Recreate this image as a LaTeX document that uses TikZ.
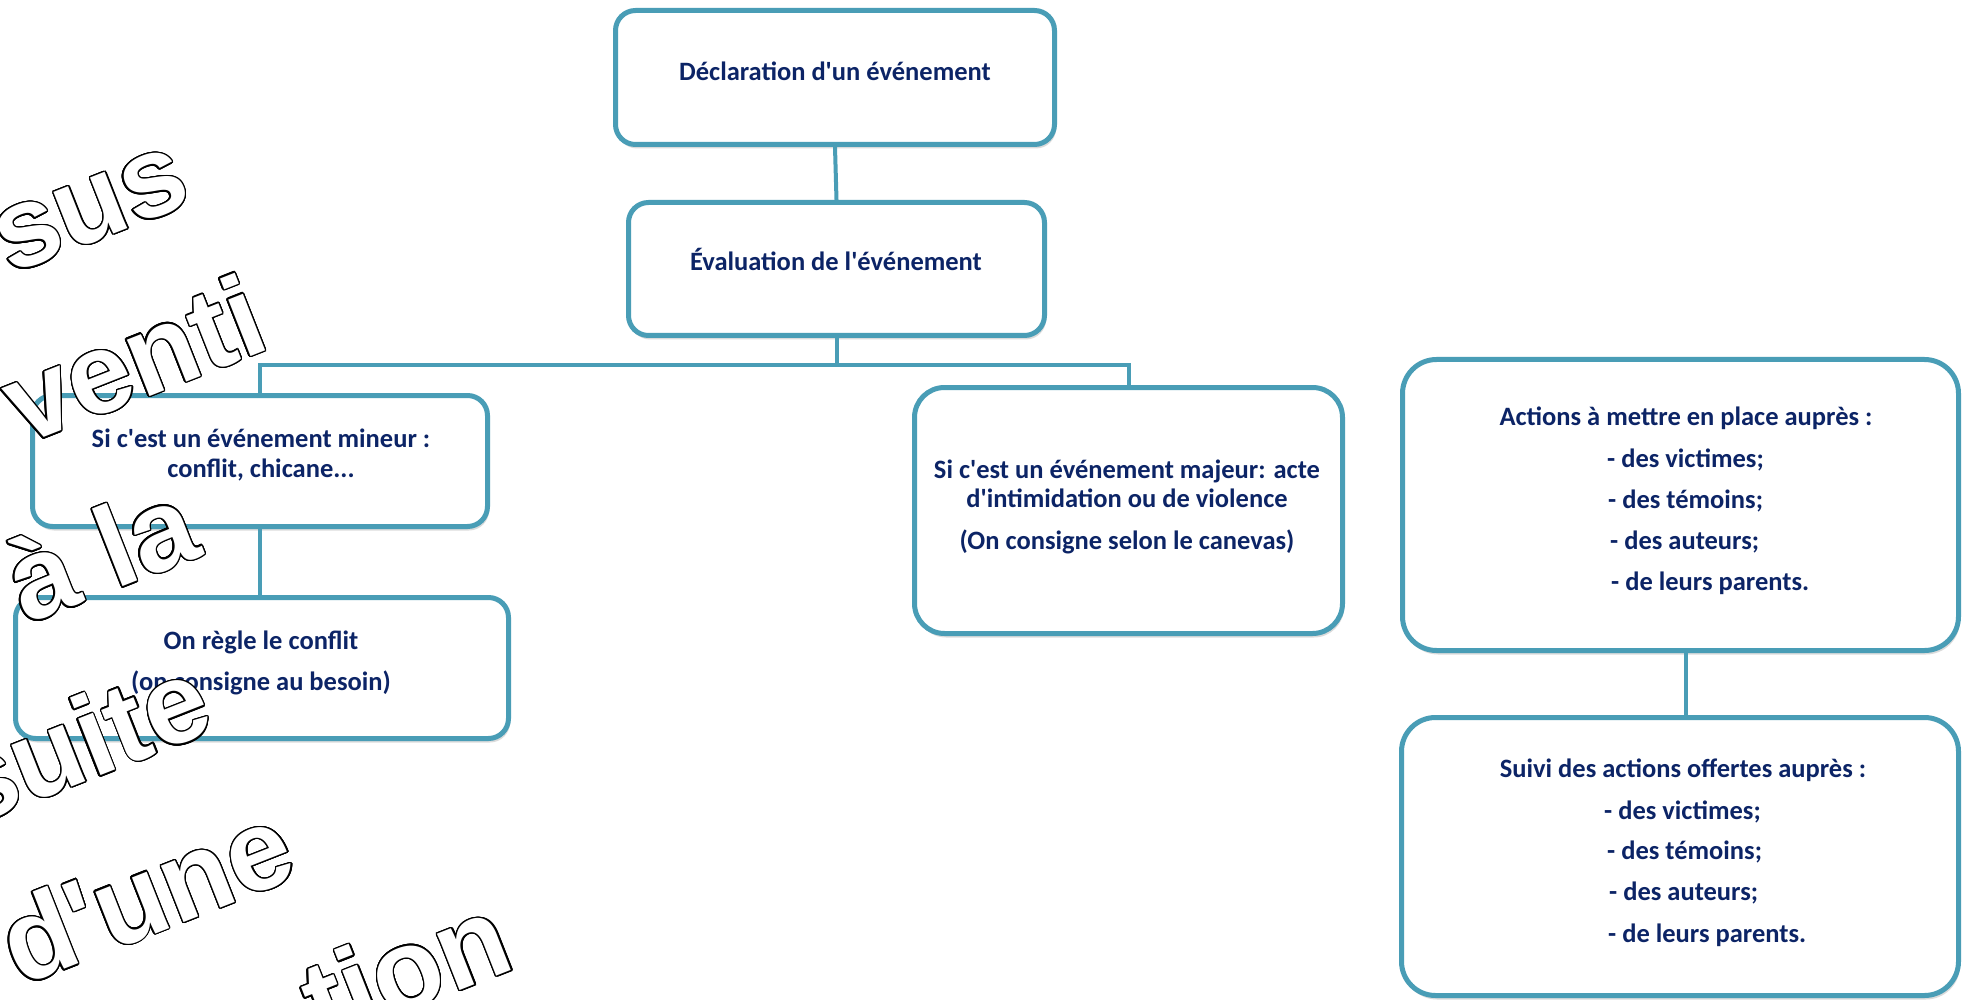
\documentclass[tikz,border=0pt]{standalone}
\usepackage{fontspec}
\setmainfont{Carlito}[Ligatures=TeXOff]
\newfontfamily\wafont{Liberation Sans}
\usetikzlibrary{shadows,calc}
\definecolor{boxline}{RGB}{73,157,182}
\definecolor{navy}{RGB}{12,36,102}
\tikzset{
  box/.style={draw=boxline, line width=5pt, rounded corners=#1, fill=white,
    drop shadow={shadow xshift=1.5pt, shadow yshift=-4pt, opacity=0.28},
    inner sep=0pt},
  box/.default=20pt,
  link/.style={draw=boxline, line width=4pt},
  lbl/.style={text=navy, inner sep=0pt, anchor=mid,
    font=\bfseries\fontsize{26.5}{31}\selectfont},
  lbll/.style={lbl, anchor=mid west},
  wa/.style={font=\wafont\bfseries\fontsize{115}{115}\selectfont,
    rotate=21.5, anchor=base west, inner sep=0pt},
}
\newcommand\outlineword[3]{%
  \foreach \ang in {0,15,...,345}{%
    \node[wa, text=black] at ($(#2)+(\ang:1.35)$) {#3};}
  \node[wa, text=white] (#1) at (#2) {#3};
}
\begin{document}
\begin{tikzpicture}[x=1pt, y=-1pt]
\useasboundingbox (0,0) rectangle (1963,1000);
\fill[white] (0,0) rectangle (1963,1000);
\clip (0,0) rectangle (1963,1000);

% boxes
\node[box, minimum width=439, minimum height=134] (b1) at (835,77.5) {};
\node[box, minimum width=416, minimum height=133] (b2) at (836.5,269) {};
\node[box, minimum width=455, minimum height=131] (b3) at (260,461) {};
\node[box, minimum width=493, minimum height=141] (b5) at (262,668) {};
\node[box=30pt, minimum width=428, minimum height=246] (b4) at (1128.5,510.5) {};
\node[box=34pt, minimum width=556, minimum height=291] (b6) at (1680.5,505) {};
\node[box=34pt, minimum width=557, minimum height=278] (b7) at (1680,856.5) {};

% connectors
\coordinate (j) at (836.5,365);
\coordinate (k) at (1686,685);
\draw[link] (b1.south) -- (b2.north);
\draw[link] (b2.south) -- (j);
\draw[link] (b3.north) |- (j) -| (b4.north);
\draw[link] (b3.south) -- (b3.south |- b5.north);
\draw[link] (k |- b6.south) -- (k |- b7.north);

% texts
\node[lbl] (t1) at (835,78) {Déclaration d'un événement};
\node[lbl] (t2) at (836,268) {Évaluation de l'événement};
\node[lbl] (t3a) at (261,445) {Si c'est un événement mineur :};
\node[lbl] (t3b) at (261,475) {conflit, chicane...};
\node[lbl] (t5a) at (261,647) {On règle le conflit};
\node[lbl] (t5b) at (261,688) {(on consigne au besoin)};
\node[lbl] (t4a) at (1127,476) {Si c'est un événement majeur: acte};
\node[lbl] (t4b) at (1127,505) {d'intimidation ou de violence};
\node[lbl] (t4c) at (1127,547) {(On consigne selon le canevas)};
\node[lbl] (t6a) at (1686,423) {Actions à mettre en place auprès :};
\node[lbll] (t6b) at (1607,465) {- des victimes;};
\node[lbll] (t6c) at (1608,506) {- des témoins;};
\node[lbll] (t6d) at (1610,547) {- des auteurs;};
\node[lbll] (t6e) at (1611,588) {- de leurs parents.};
\node[lbl] (t7a) at (1683,775) {Suivi des actions offertes auprès :};
\node[lbll] (t7b) at (1604,817) {- des victimes;};
\node[lbll] (t7c) at (1607,857) {- des témoins;};
\node[lbll] (t7d) at (1609,898) {- des auteurs;};
\node[lbll] (t7e) at (1608,940) {- de leurs parents.};

% outlined words
\outlineword{w1}{10,275}{sus}
\outlineword{w2}{23,446}{venti}
\outlineword{w3}{26,625}{à la}
\outlineword{w4}{-32,828}{suite}
\outlineword{w5}{20,987}{d'une}
\outlineword{w6}{322,1045}{tion}
\end{tikzpicture}
\end{document}
